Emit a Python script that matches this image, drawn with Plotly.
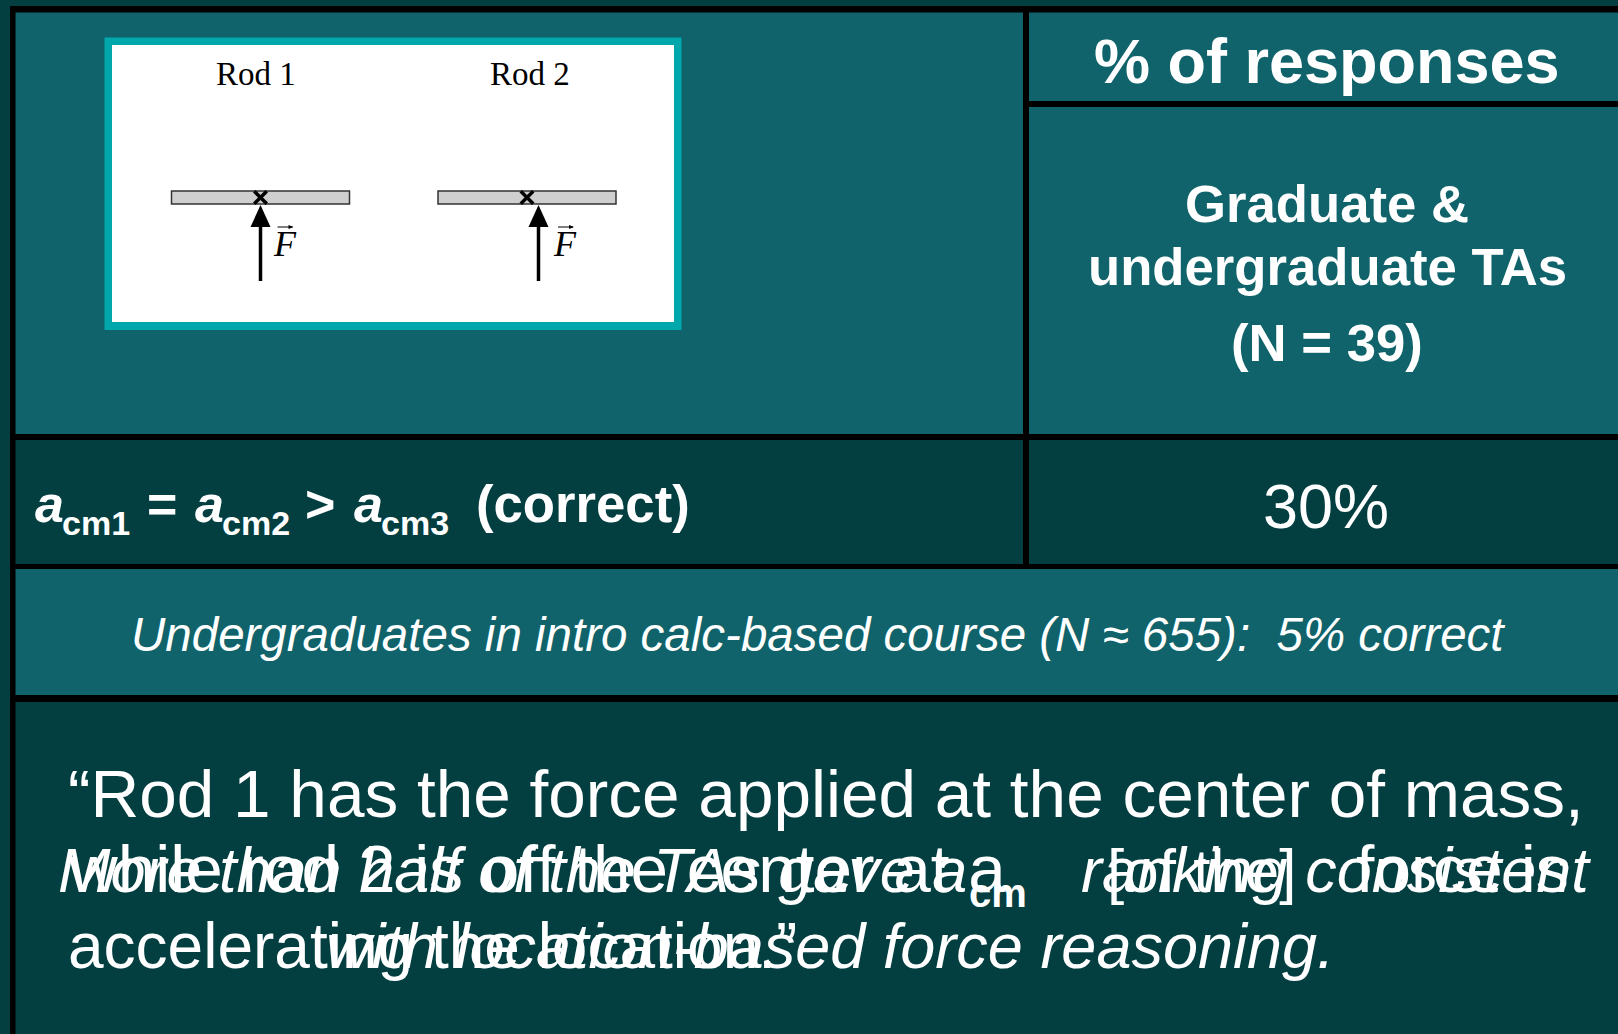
import plotly.graph_objects as go

W, H = 1618, 1034
LIGHT = "#10636A"
DARK = "#033E40"
BOX = "#00A8AB"
SANS = "Liberation Sans"
SERIF = "Liberation Serif"
HAND = "Liberation Sans"

# panels: x0, x1, y0, y1, colour
panel_x0 = [15.5, 1029, 1029, 15.5, 1029, 15.5, 15.5]
panel_x1 = [1023, W, W, 1023, W, W, W]
panel_y0 = [12.5, 12.5, 107, 440, 440, 569, 702]
panel_y1 = [434, 101, 434, 564, 564, 695, H]
panel_col = [LIGHT, LIGHT, LIGHT, DARK, DARK, LIGHT, DARK]

# rods of the diagram
rod_names = ["Rod 1", "Rod 2"]
rod_label_x = [256, 529.5]
rod_x0 = [171.5, 438]
rod_x1 = [349.5, 616]
cm_x = [260.5, 527]
force_x = [260.5, 538.5]
force_label_x = [284.5, 565]

# text: string, x, baseline, size, anchor, bold, italic, family
texts = [
    ("% of responses", 1327, 84, 63, "center", True, False, SANS),
    ("Graduate &", 1327, 223, 52.7, "center", True, False, SANS),
    ("undergraduate TAs", 1327, 286, 52.7, "center", True, False, SANS),
    ("(N = 39)", 1327, 362, 52.7, "center", True, False, SANS),
    ("30%", 1326, 529, 63, "center", False, False, SANS),
    ("a", 34, 523, 52, "left", True, True, SANS),
    ("cm1", 61, 536, 34, "left", True, False, SANS),
    ("=", 146, 523, 52, "left", True, False, SANS),
    ("a", 194, 523, 52, "left", True, True, SANS),
    ("cm2", 221, 536, 34, "left", True, False, SANS),
    (">", 304, 523, 52, "left", True, False, SANS),
    ("a", 353, 523, 52, "left", True, True, SANS),
    ("cm3", 380, 536, 34, "left", True, False, SANS),
    ("(correct)", 475, 523, 52.7, "left", True, False, SANS),
    ("Undergraduates in intro calc-based course (N ≈ 655):\u00a0\u00a05% correct", 129.5, 652, 47.5, "left", False, True, SANS),
    ("“Rod 1 has the force applied at the center of mass,", 67, 818, 67.5, "left", False, False, HAND),
    ("while rod 2 is off the center at a", 67, 893, 67.5, "left", False, False, HAND),
    ("[of the]", 1106, 893, 62, "left", False, False, HAND),
    ("force is", 1355, 893, 66, "left", False, False, HAND),
    ("accelerating the location.”", 67, 969, 64, "left", False, False, HAND),
    ("More than half of the TAs gave a", 57, 893, 63, "left", False, True, SANS),
    ("cm", 968, 908, 40, "left", True, False, SANS),
    ("ranking consistent", 1592, 893, 63, "right", False, True, SANS),
    ("with location-based force reasoning.", 325, 969, 63, "left", False, True, SANS),
]

shapes = [dict(type="rect", x0=10, x1=W, y0=6, y1=H, fillcolor="#000000", line_width=0, layer="below")]
for x0, x1, y0, y1, c in zip(panel_x0, panel_x1, panel_y0, panel_y1, panel_col):
    shapes.append(dict(type="rect", x0=x0, x1=x1, y0=y0, y1=y1, fillcolor=c, line_width=0, layer="below"))
shapes.append(dict(type="rect", x0=104.5, x1=681.5, y0=37.5, y1=330, fillcolor=BOX, line_width=0, layer="below"))
shapes.append(dict(type="rect", x0=112, x1=674, y0=45, y1=322, fillcolor="#FFFFFF", line_width=0, layer="below"))
for x0, x1 in zip(rod_x0, rod_x1):
    shapes.append(dict(type="rect", x0=x0, x1=x1, y0=191, y1=204, fillcolor="#CFCFCF",
                       line=dict(color="#333333", width=1.5), layer="below"))
for fx, lx in zip(force_x, force_label_x):
    shapes.append(dict(type="line", x0=fx, x1=fx, y0=224, y1=281, line=dict(color="#000000", width=3.5)))
    shapes.append(dict(type="path", path=f"M {fx} 205 L {fx-10} 227 L {fx+10} 227 Z",
                       fillcolor="#000000", line_width=0))
    shapes.append(dict(type="line", x0=lx-7, x1=lx+8, y0=227, y1=227, line=dict(color="#000000", width=1)))
    shapes.append(dict(type="path", path=f"M {lx+9} 227 L {lx+4} 225 L {lx+4} 229 Z",
                       fillcolor="#000000", line_width=0))

annotations = []
for s, x, base, size, anchor, bold, italic, fam in texts:
    annotations.append(dict(
        text=s, x=x, y=base + 0.212 * size, xref="x", yref="y", showarrow=False,
        xanchor=anchor, yanchor="bottom", align=anchor, borderpad=0,
        font=dict(family=fam, size=size, color="#FFFFFF",
                  weight="bold" if bold else "normal",
                  style="italic" if italic else "normal")))
for name, x in zip(rod_names, rod_label_x):
    annotations.append(dict(text=name, x=x, y=86 + 0.216 * 33, xref="x", yref="y", showarrow=False,
                            xanchor="center", yanchor="bottom", borderpad=0,
                            font=dict(family=SERIF, size=33, color="#000000")))
for x in force_label_x:
    annotations.append(dict(text="F", x=x, y=257 + 0.216 * 36, xref="x", yref="y", showarrow=False,
                            xanchor="center", yanchor="bottom", borderpad=0,
                            font=dict(family=SERIF, size=36, color="#000000", style="italic")))

fig = go.Figure(go.Scatter(
    x=cm_x, y=[197.5, 197.5], mode="markers", hoverinfo="skip", showlegend=False,
    marker=dict(symbol="x-thin", size=12.5, line=dict(color="#000000", width=3.5))))
fig.update_layout(
    width=W, height=H, margin=dict(l=0, r=0, t=0, b=0), paper_bgcolor=DARK, plot_bgcolor=DARK,
    xaxis=dict(visible=False, range=[0, W], fixedrange=True),
    yaxis=dict(visible=False, range=[H, 0], fixedrange=True),
    shapes=shapes, annotations=annotations, showlegend=False)
fig.write_html("out.html", config={"displayModeBar": False},
               post_script="document.body.style.margin='0';document.body.style.overflow='hidden';")
